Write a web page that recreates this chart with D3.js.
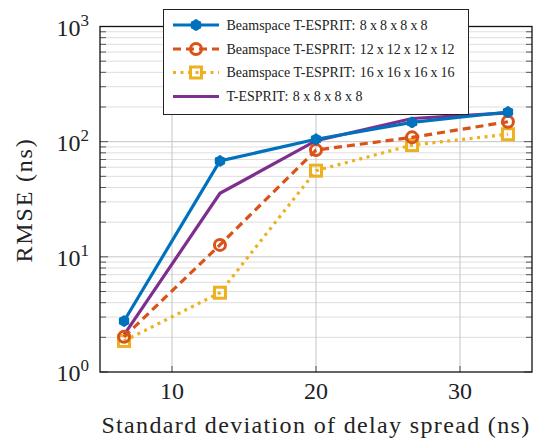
<!DOCTYPE html>
<html>
<head>
<meta charset="utf-8">
<script src="https://cdn.jsdelivr.net/npm/d3@7"></script>
<style>
  body { margin: 0; background: #fff; }
  text { font-family: "Liberation Serif", "DejaVu Serif", serif; fill: #222; }
</style>
</head>
<body>
<svg id="chart" width="534" height="441"></svg>
<script>
// data
const delaySpread = [6.67, 13.33, 20, 26.67, 33.33];
const bs8 = [2.77, 68, 105, 147, 181];
const bs12 = [2.02, 12.7, 84.5, 109, 149];
const bs16 = [1.86, 4.88, 56, 93.4, 116];
const tesprit8 = [2.1, 35.6, 102, 159, 178];
const xTicks = [10, 20, 30];
const yDecades = [0, 1, 2, 3];

const seriesNames = [
  "Beamspace T-ESPRIT: 8 x 8 x 8 x 8",
  "Beamspace T-ESPRIT: 12 x 12 x 12 x 12",
  "Beamspace T-ESPRIT: 16 x 16 x 16 x 16",
  "T-ESPRIT: 8 x 8 x 8 x 8"
];
// widths of the legend labels in the original, px
const legendWidths = [201, 228, 228, 136];

const series = [
  { name: seriesNames[0], values: bs8, color: "#0072BD", dash: null, marker: "star" },
  { name: seriesNames[1], values: bs12, color: "#D95319", dash: "8,5", marker: "circle" },
  { name: seriesNames[2], values: bs16, color: "#EDB120", dash: "3,4.5", marker: "square" },
  { name: seriesNames[3], values: tesprit8, color: "#7E2F8E", dash: null, marker: null }
];

const svg = d3.select("#chart");
const m = { left: 100, right: 532, top: 26.5, bottom: 372 };

const x = d3.scaleLinear().domain([5, 35]).range([m.left, m.right]);
const y = d3.scaleLog().domain([1, 1000]).range([m.bottom, m.top]);

// grid
const grid = svg.append("g");
const minorVals = [];
yDecades.slice(0, -1).forEach(d => {
  for (let k = 2; k <= 9; k++) minorVals.push(k * Math.pow(10, d));
});
grid.selectAll("line.minor").data(minorVals).join("line")
  .attr("x1", m.left).attr("x2", m.right)
  .attr("y1", d => y(d)).attr("y2", d => y(d))
  .attr("stroke", "#dedede").attr("stroke-width", 1);
grid.selectAll("line.majory").data(yDecades.slice(1, -1)).join("line")
  .attr("x1", m.left).attr("x2", m.right)
  .attr("y1", d => y(Math.pow(10, d))).attr("y2", d => y(Math.pow(10, d)))
  .attr("stroke", "#c4c4c4").attr("stroke-width", 1);
grid.selectAll("line.majorx").data(xTicks).join("line")
  .attr("x1", d => x(d)).attr("x2", d => x(d))
  .attr("y1", m.top).attr("y2", m.bottom)
  .attr("stroke", "#c4c4c4").attr("stroke-width", 1);

// inner ticks on left and right
const ticks = svg.append("g").attr("stroke", "#555").attr("stroke-width", 1);
const allY = minorVals.concat(yDecades.map(d => Math.pow(10, d)));
allY.forEach(v => {
  const len = Number.isInteger(Math.log10(v)) ? 8 : 6;
  ticks.append("line").attr("x1", m.left).attr("x2", m.left + len).attr("y1", y(v)).attr("y2", y(v));
  ticks.append("line").attr("x1", m.right).attr("x2", m.right - len).attr("y1", y(v)).attr("y2", y(v));
});
xTicks.forEach(v => {
  ticks.append("line").attr("x1", x(v)).attr("x2", x(v)).attr("y1", m.bottom).attr("y2", m.bottom - 6);
  ticks.append("line").attr("x1", x(v)).attr("x2", x(v)).attr("y1", m.top).attr("y2", m.top + 6);
});

// frame
svg.append("rect")
  .attr("x", m.left).attr("y", m.top)
  .attr("width", m.right - m.left).attr("height", m.bottom - m.top)
  .attr("fill", "none").attr("stroke", "#111").attr("stroke-width", 1.3);

// tick labels
svg.selectAll("text.xt").data(xTicks).join("text")
  .attr("x", d => x(d)).attr("y", 399)
  .attr("text-anchor", "middle").attr("font-size", 24)
  .text(d => d);

const yl = svg.selectAll("text.yt").data(yDecades).join("text")
  .attr("x", 89).attr("y", d => y(Math.pow(10, d)) + 9)
  .attr("text-anchor", "end").attr("font-size", 24);
yl.append("tspan").text("10");
yl.append("tspan").attr("dy", -10).attr("font-size", 17).text(d => d);

// axis titles
svg.append("text")
  .attr("x", 316).attr("y", 433)
  .attr("text-anchor", "middle").attr("font-size", 24)
  .attr("letter-spacing", 1.35)
  .text("Standard deviation of delay spread (ns)");
svg.append("text")
  .attr("transform", "translate(32,200) rotate(-90)")
  .attr("text-anchor", "middle").attr("font-size", 24)
  .attr("letter-spacing", 1.8)
  .text("RMSE (ns)");

// lines and markers
const line = d3.line().x(d => x(d[0])).y(d => y(d[1]));

function drawMarker(g, type, color, cx, cy) {
  if (type === "star") {
    g.append("circle").attr("cx", cx).attr("cy", cy).attr("r", 4.5)
      .attr("fill", color).attr("stroke", color).attr("stroke-width", 1.5);
    g.append("path")
      .attr("transform", `translate(${cx},${cy})`)
      .attr("d", d3.symbol(d3.symbolAsterisk, 90)())
      .attr("fill", "none").attr("stroke", color).attr("stroke-width", 2.5);
  } else if (type === "circle") {
    g.append("circle").attr("cx", cx).attr("cy", cy).attr("r", 5.5)
      .attr("fill", "none").attr("stroke", color).attr("stroke-width", 3);
  } else if (type === "square") {
    g.append("rect").attr("x", cx - 5.5).attr("y", cy - 5.5)
      .attr("width", 11).attr("height", 11)
      .attr("fill", "none").attr("stroke", color).attr("stroke-width", 3);
  }
}

const plot = svg.append("g");
// draw order: purple under others, blue on top
[series[3], series[2], series[1], series[0]].forEach(s => {
  const pts = delaySpread.map((v, i) => [v, s.values[i]]);
  plot.append("path").datum(pts)
    .attr("d", line)
    .attr("fill", "none").attr("stroke", s.color).attr("stroke-width", 3.2)
    .attr("stroke-dasharray", s.dash);
  if (s.marker) pts.forEach(p => drawMarker(plot, s.marker, s.color, x(p[0]), y(p[1])));
});

// legend
const lg = svg.append("g");
lg.append("rect").attr("x", 163.5).attr("y", 9.5).attr("width", 305).attr("height", 105)
  .attr("fill", "#fff").attr("stroke", "#222").attr("stroke-width", 1);
const rowY = [25, 49, 72.5, 96.5];
const textX = 226.5;

function measure(str) {
  const t = lg.append("text").attr("font-size", 14).text(str);
  const w = t.node().getComputedTextLength();
  t.remove();
  return w;
}

series.forEach((s, i) => {
  lg.append("line").attr("x1", 173).attr("x2", 219).attr("y1", rowY[i]).attr("y2", rowY[i])
    .attr("stroke", s.color).attr("stroke-width", 3.2).attr("stroke-dasharray", s.dash);
  if (s.marker) drawMarker(lg, s.marker, s.color, 196, rowY[i]);

  // prefix as typed, then the "n x n x n x n" tokens spread out to the original width
  const cut = s.name.indexOf(":") + 1;
  const prefix = s.name.slice(0, cut);
  const tokens = s.name.slice(cut).trim().split(" ");
  const t = lg.append("text").attr("x", textX).attr("y", rowY[i] + 4.5).attr("font-size", 14);
  t.append("tspan").text(prefix);
  const start = textX + measure(prefix) + 4.5;
  const widths = tokens.map(measure);
  const total = d3.sum(widths);
  const gap = (textX + legendWidths[i] - start - total) / (tokens.length - 1);
  let cx = start;
  tokens.forEach((tok, k) => {
    t.append("tspan").attr("x", cx).text(tok);
    cx += widths[k] + gap;
  });
});
</script>
</body>
</html>
